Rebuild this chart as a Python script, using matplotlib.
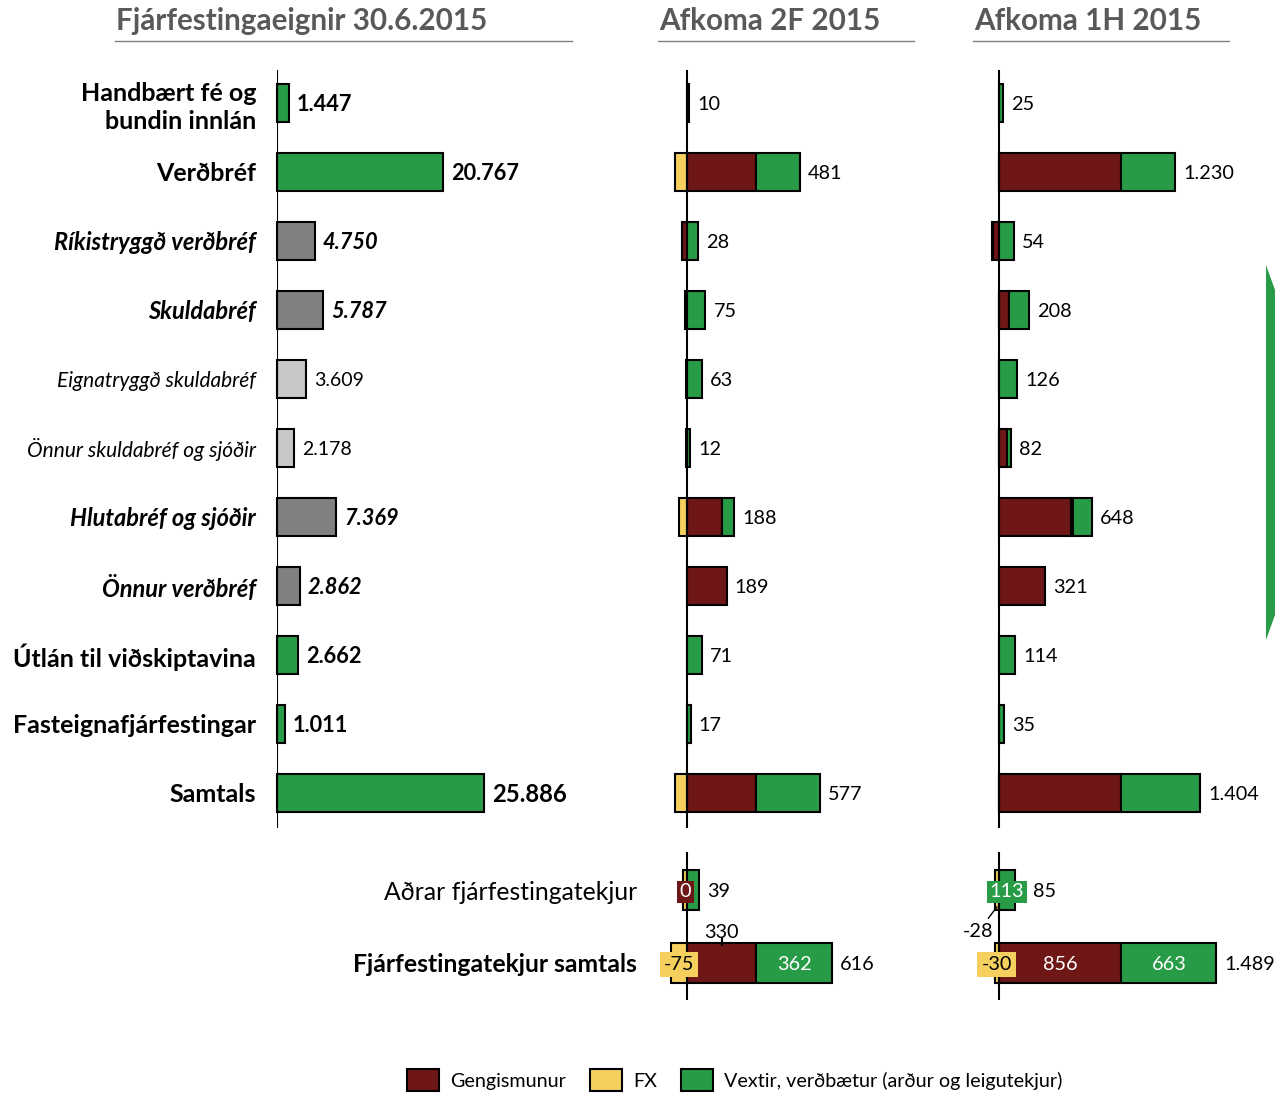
import numpy as np
import matplotlib
matplotlib.use('Agg')
import matplotlib.pyplot as plt
from matplotlib.patches import Patch, Polygon
from matplotlib.lines import Line2D

plt.rcParams['font.family'] = ['Lato', 'DejaVu Sans']

# --- data ---
asset_labels = ['Handbært fé og\nbundin innlán', 'Verðbréf', 'Ríkistryggð verðbréf', 'Skuldabréf',
                'Eignatryggð skuldabréf', 'Önnur skuldabréf og sjóðir', 'Hlutabréf og sjóðir',
                'Önnur verðbréf', 'Útlán til viðskiptavina', 'Fasteignafjárfestingar', 'Samtals']
asset_values = [1447, 20767, 4750, 5787, 3609, 2178, 7369, 2862, 2662, 1011, 25886]
# 0 = main row (green), 1 = sub row (dark gray), 2 = sub-sub row (light gray)
asset_level = [0, 0, 1, 1, 2, 2, 1, 1, 0, 0, 0]

income_labels = ['Aðrar fjárfestingatekjur', 'Fjárfestingatekjur samtals']

# rows: 11 asset rows + Aðrar fjárfestingatekjur + Fjárfestingatekjur samtals
gm_2f = [0, 330, -25, -8, -5, -3, 168, 189, 0, 0, 330, 0, 330]
fx_2f = [0, -57, 0, 0, 0, 0, -38, 0, 0, 0, -57, -18, -75]
vx_2f = [10, 208, 53, 88, 70, 15, 58, 0, 71, 17, 304, 57, 362]
tot_2f = [10, 481, 28, 75, 63, 12, 188, 189, 71, 17, 577, 39, 616]

gm_1h = [0, 856, -45, 70, 0, 55, 505, 321, 0, 0, 856, 0, 856]
fx_1h = [0, -3, -3, -3, -2, -2, 15, 0, 0, 0, -3, -28, -30]
vx_1h = [25, 377, 102, 141, 128, 29, 128, 0, 114, 35, 551, 113, 663]
tot_1h = [25, 1230, 54, 208, 126, 82, 648, 321, 114, 35, 1404, 85, 1489]

RED = '#6f1616'
YEL = '#f5d05f'
GRN = '#289b47'
level_colors = [GRN, '#808080', '#c8c8c8']

W, H = 1275, 1093
rows = list(range(11)) + [11.41, 12.46]
NUM = 14.3


def fmt(v):
    return f'{v:,}'.replace(',', '.')


fig = plt.figure(figsize=(W / 100, H / 100), dpi=100)


def make_ax(x0, x1, zero_px, px_per_unit):
    ax = fig.add_axes([x0 / W, 1 - 1010 / H, (x1 - x0) / W, 950 / H])
    ax.set_xlim(-(zero_px - x0) / px_per_unit, (x1 - zero_px) / px_per_unit)
    ax.set_ylim(13.145, -0.623)
    for s in ax.spines.values():
        s.set_visible(False)
    ax.set_xticks([])
    ax.set_yticks([])
    ax.tick_params(axis='y', length=0)
    ax.patch.set_alpha(0)
    return ax


# --- left panel: assets ---
axL = make_ax(277, 640, 277, 0.008)
axL.barh(rows[:11], asset_values, height=0.55,
         color=[level_colors[l] for l in asset_level],
         edgecolor='black', linewidth=1.5, zorder=2, clip_on=False)
axL.vlines(0, -0.478, 10.51, color='black', lw=1.5, zorder=3)
axL.set_yticks(rows[:11], asset_labels)
axL.tick_params(axis='y', pad=15)
for i, lab in enumerate(axL.get_yticklabels()):
    lvl = asset_level[i]
    lab.set_linespacing(1.25)
    if lvl == 0:
        lab.set_fontweight('bold'); lab.set_fontsize(18)
    elif lvl == 1:
        lab.set_fontweight('bold'); lab.set_fontstyle('italic'); lab.set_fontsize(17)
    else:
        lab.set_fontstyle('italic'); lab.set_fontsize(15)
for i, v in enumerate(asset_values):
    lvl = asset_level[i]
    kw = dict(fontsize=15.7, fontweight='bold')
    if lvl == 1:
        kw['fontstyle'] = 'italic'
    if lvl == 2:
        kw = dict(fontsize=14)
    if i == 10:
        kw['fontsize'] = 17.2
    axL.annotate(fmt(v), (v, rows[i]), xytext=(8, 0), textcoords='offset pixels',
                 va='center_baseline', ha='left', **kw)


def draw_contrib(ax, gm, fx, vx, tot, extra_pad=None):
    extra_pad = extra_pad or {}
    for i, r in enumerate(rows):
        h = 0.55 if i < 11 else 0.58
        pos, neg = 0, 0
        for vals, col in ((gm, RED), (fx, YEL), (vx, GRN)):
            v = vals[i]
            if v == 0:
                continue
            if v > 0:
                ax.barh(r, v, left=pos, height=h, color=col, edgecolor='black', lw=1.5, zorder=2)
                pos += v
            else:
                ax.barh(r, v, left=neg, height=h, color=col, edgecolor='black', lw=1.5, zorder=2)
                neg += v
        ax.annotate(fmt(tot[i]), (pos, r), xytext=(8 + extra_pad.get(i, 0), 0),
                    textcoords='offset pixels', va='center_baseline', ha='left', fontsize=NUM)
    ax.vlines(0, -0.478, 10.51, color='black', lw=1.5, zorder=3)
    ax.vlines(0, 10.855, 13.0, color='black', lw=1.5, zorder=3)


# --- middle panel: 2F ---
axM = make_ax(640, 900, 687, 0.21)
draw_contrib(axM, gm_2f, fx_2f, vx_2f, tot_2f)
axM.set_yticks(rows[11:], income_labels)
axM.tick_params(axis='y', pad=2)
for i, lab in enumerate(axM.get_yticklabels()):
    lab.set_fontsize(17.8)
    if i == 1:
        lab.set_fontweight('bold')

r_oth, r_sum = rows[11], rows[12]
axM.text(-9, r_oth, fmt(gm_2f[11]), ha='center', va='center_baseline', color='white',
         fontsize=NUM, zorder=5, bbox=dict(facecolor=RED, edgecolor='none', pad=2))
axM.text(fx_2f[12] / 2, r_sum, fmt(fx_2f[12]), ha='center', va='center_baseline', fontsize=NUM,
         zorder=5, bbox=dict(facecolor=YEL, edgecolor='none', pad=3))
axM.text(gm_2f[12] / 2, r_sum - 0.46, fmt(gm_2f[12]), ha='center', va='center_baseline', fontsize=NUM)
axM.plot([gm_2f[12] / 2] * 2, [r_sum - 0.36, r_sum - 0.26], color='black', lw=1.5)
axM.text(gm_2f[12] + vx_2f[12] / 2, r_sum, fmt(vx_2f[12]), ha='center', va='center_baseline',
         color='white', fontsize=NUM, zorder=5)

# --- right panel: 1H ---
axR = make_ax(960, 1275, 999, 0.143)
draw_contrib(axR, gm_1h, fx_1h, vx_1h, tot_1h, extra_pad={11: 10})
axR.text(vx_1h[11] / 2, r_oth, fmt(vx_1h[11]), ha='center', va='center_baseline', color='white',
         fontsize=NUM, zorder=5, bbox=dict(facecolor=GRN, edgecolor='none', pad=2))
axR.annotate(fmt(fx_1h[11]), xy=(fx_1h[11] / 2, r_oth + 0.24), xytext=(-147, r_oth + 0.58),
             ha='center', va='center_baseline', fontsize=NUM,
             arrowprops=dict(arrowstyle='-', lw=1, color='black', shrinkA=2, shrinkB=0))
axR.text(fx_1h[12] / 2, r_sum, fmt(fx_1h[12]), ha='center', va='center_baseline', fontsize=NUM,
         zorder=5, bbox=dict(facecolor=YEL, edgecolor='none', pad=3))
axR.text(gm_1h[12] / 2, r_sum, fmt(gm_1h[12]), ha='center', va='center_baseline',
         color='white', fontsize=NUM, zorder=5)
axR.text(gm_1h[12] + vx_1h[12] / 2, r_sum, fmt(vx_1h[12]), ha='center', va='center_baseline',
         color='white', fontsize=NUM, zorder=5)

# --- titles with underline ---
for x0, x1, title in ((115, 572, 'Fjárfestingaeignir 30.6.2015'),
                      (658, 914, 'Afkoma 2F 2015'),
                      (973, 1229, 'Afkoma 1H 2015')):
    fig.text((x0 + 1) / W, 1 - 21 / H, title, ha='left', va='center', fontsize=21.3,
             fontweight='bold', color='#595959')
    fig.add_artist(Line2D([x0 / W, x1 / W], [1 - 41 / H] * 2, color='#808080', lw=1))

# green shape cut off at the right edge
fig.add_artist(Polygon([(1266 / W, 1 - 265 / H), (1275 / W, 1 - 290 / H),
                        (1275 / W, 1 - 615 / H), (1266 / W, 1 - 640 / H)],
                       closed=True, facecolor=GRN, edgecolor='none', transform=fig.transFigure))

# --- legend ---
handles = [Patch(facecolor=RED, edgecolor='black', lw=1.5, label='Gengismunur'),
           Patch(facecolor=YEL, edgecolor='black', lw=1.5, label='FX'),
           Patch(facecolor=GRN, edgecolor='black', lw=1.5, label='Vextir, verðbætur (arður og leigutekjur)')]
fig.legend(handles=handles, loc='center', bbox_to_anchor=(735 / W, 1 - 1080 / H), ncol=3,
           frameon=False, fontsize=14.2, handlelength=1.6, handleheight=1.3,
           columnspacing=1.2, handletextpad=0.6)

fig.savefig('out.png', dpi=100)
